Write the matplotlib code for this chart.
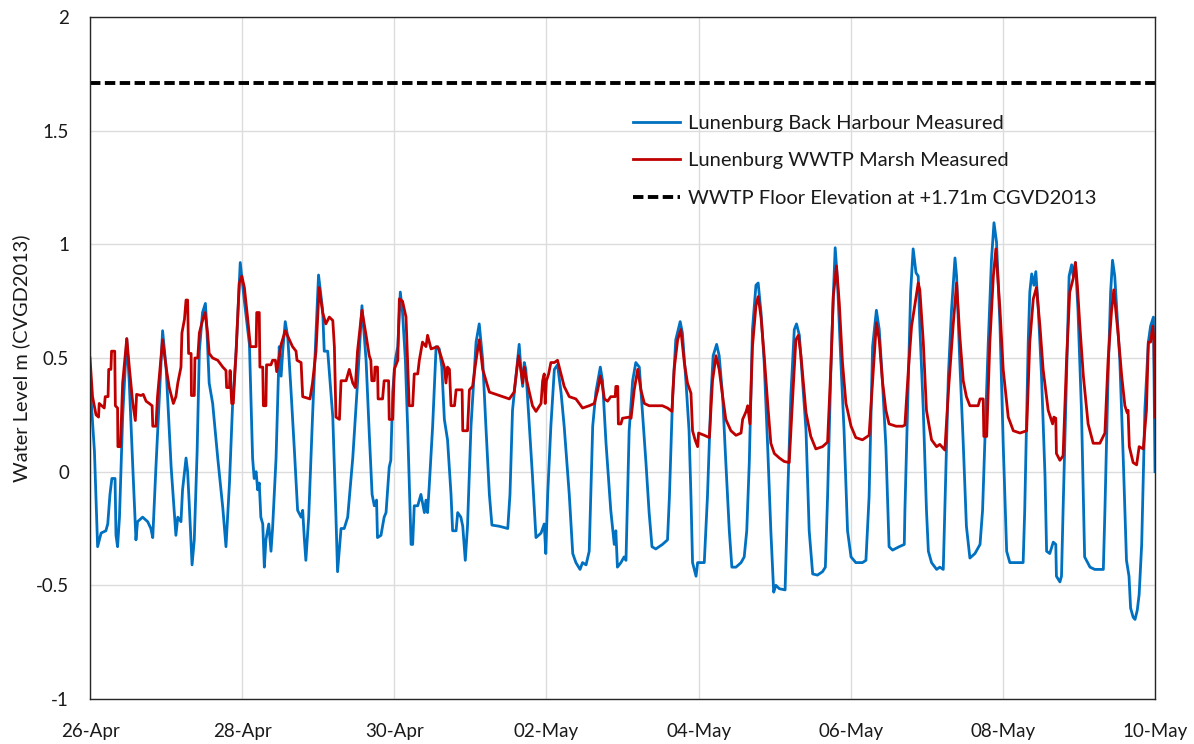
import matplotlib
matplotlib.use("Agg")
import matplotlib.pyplot as plt

plt.rcParams['font.family'] = ['Lato', 'DejaVu Sans']
plt.rcParams['axes.unicode_minus'] = False
plt.rcParams['lines.scale_dashes'] = False

# ---- data (hours since 26-Apr 00:00, water level in m) ----
blue_h = [0.0, 1.4, 2.4, 3.5, 5.0, 5.6, 6.3, 6.9, 7.9, 8.2, 8.7, 9.3, 10.3, 11.6, 12.4, 13.5, 14.5, 15.0,
          16.6, 18.2, 19.2, 19.8, 20.8, 22.1, 22.9, 24.0, 25.6, 27.1, 27.7, 28.7, 29.2, 30.3, 30.8, 31.3,
          32.2, 32.9, 33.8, 34.5, 35.5, 36.4, 36.8, 37.6, 38.7, 40.3, 41.3, 41.9, 42.9, 44.0, 45.0, 46.1,
          47.4, 48.7, 50.3, 51.3, 51.8, 52.4, 52.9, 53.4, 53.9, 54.5, 55.0, 55.5, 56.4, 57.1, 57.6, 58.7,
          59.7, 60.3, 60.8, 61.6, 62.4, 63.4, 64.5, 65.5, 66.6, 67.1, 67.6, 68.1, 69.0, 70.2, 71.3, 72.1,
          73.4, 73.9, 75.0, 76.6, 77.6, 78.1, 79.2, 80.2, 81.3, 82.9, 84.4, 85.8,
          87.1, 88.1, 89.0, 89.7, 90.4, 90.7, 91.8, 92.8, 93.4, 94.4, 94.9, 95.5, 96.3, 97.1, 97.9, 98.6,
          99.5, 100.2, 101.3, 101.8, 102.3, 103.4, 104.4, 105.5, 106.0, 106.5, 107.0, 108.1, 109.2, 110.2,
          111.0, 111.8, 112.8, 113.9, 114.4, 115.5, 116.0, 117.0, 117.6, 118.4, 119.1, 120.2, 121.8, 122.8,
          123.9, 124.9, 126.0, 126.8, 129.1, 131.8, 132.5, 133.3, 134.4, 135.4, 135.9, 136.5, 137.0, 137.5,
          138.6, 139.6, 140.7, 142.3, 143.3, 143.8, 144.4, 145.4, 146.5, 147.5, 148.6, 149.6, 151.2, 152.3,
          153.3, 154.6, 155.4, 156.5, 157.5, 158.6, 159.6, 161.0, 161.7, 162.8, 164.3, 165.4, 165.9, 166.4,
          167.5, 168.5,
          169.1, 170.1, 171.2, 172.2, 173.3, 174.3, 175.4, 176.4, 177.3, 178.5, 180.6, 182.2, 182.8, 183.8,
          184.8, 186.2, 186.9, 188.0, 189.0, 189.6, 190.1, 191.2, 191.7, 193.8, 194.8, 195.9, 196.6, 197.7,
          198.5, 199.6, 200.6, 201.7, 202.5, 203.8, 205.4, 206.4, 207.2, 208.0, 209.0, 210.1, 210.8, 211.7,
          212.7, 213.8, 214.8, 215.7, 216.4, 217.5, 219.3, 220.1, 221.1, 222.2, 222.9, 223.8, 224.8, 225.9,
          226.9, 228.0, 229.5, 231.1, 232.0, 232.7, 233.8, 234.5, 235.1, 235.8, 236.9, 237.9, 239.0, 240.1,
          241.6, 243.7, 244.8, 245.8, 246.9, 248.1, 249.0, 250.0, 251.1, 252.1, 253.2, 255.3, 256.9,
          257.1, 258.2, 258.9, 259.7, 260.6, 261.3, 261.8, 262.9, 263.9, 264.5, 265.5, 267.1, 268.1, 269.2,
          269.7, 270.8, 271.8, 272.9, 273.4, 274.4, 275.5, 276.5, 277.6, 279.2, 280.8, 281.6, 282.3, 283.4,
          284.4, 285.2, 286.0, 287.1, 288.1, 289.2, 290.2, 292.3, 294.4, 294.9, 296.0, 296.5, 297.1, 297.8,
          298.4, 299.2, 300.2, 301.3, 301.8, 302.8, 303.9, 304.7, 304.9, 306.0, 306.5, 307.0, 308.1, 308.9,
          309.7, 310.2, 310.9, 311.7, 312.8, 313.8, 315.5, 317.0, 319.7, 320.2, 321.2, 322.0, 322.6, 323.3,
          324.9, 326.0, 327.0, 327.8, 328.3, 329.1, 329.7, 330.4, 331.0, 331.8, 332.8, 333.9, 334.6, 335.5,
          336.0]
blue_v = [0.39, 0.09, -0.33, -0.27, -0.26, -0.23, -0.10, -0.03, -0.03, -0.28, -0.33, -0.20, 0.24, 0.585, 0.39,
          0.02, -0.30, -0.22, -0.20, -0.22, -0.25, -0.29, 0.02, 0.39, 0.62, 0.46, 0.02, -0.28, -0.20, -0.22,
          -0.08, 0.06, 0.00, -0.14, -0.41, -0.30, 0.09, 0.53, 0.70, 0.74, 0.65, 0.39, 0.30, 0.06, -0.08,
          -0.16, -0.33, -0.05, 0.30, 0.53, 0.92, 0.75, 0.56, 0.06, -0.03, 0.00, -0.08, -0.05, -0.20, -0.23,
          -0.42, -0.30, -0.23, -0.35, -0.25, 0.06, 0.55, 0.42, 0.53, 0.66, 0.59, 0.36, 0.09, -0.17, -0.20,
          -0.17, -0.29, -0.39, -0.20, 0.24, 0.61, 0.865, 0.71, 0.53, 0.53, 0.24, -0.20, -0.44, -0.25, -0.25,
          -0.20, 0.06, 0.39, 0.73,
          0.49, 0.17, -0.10, -0.15, -0.125, -0.29, -0.28, -0.20, -0.18, 0.02, 0.05, 0.35, 0.49, 0.55, 0.79,
          0.70, 0.49, 0.20, -0.32, -0.32, -0.15, -0.15, -0.10, -0.18, -0.125, -0.18, -0.07, 0.20, 0.55, 0.54,
          0.46, 0.23, 0.14, -0.10, -0.26, -0.26, -0.18, -0.20, -0.24, -0.39, -0.24, 0.20, 0.57, 0.65, 0.49,
          0.20, -0.10, -0.235, -0.24, -0.25, -0.10, 0.27, 0.42, 0.56, 0.46, 0.375, 0.48, 0.45, 0.20, -0.02,
          -0.29, -0.27, -0.23, -0.36, -0.10, 0.20, 0.45, 0.47, 0.35, 0.20, -0.10, -0.36, -0.40, -0.43, -0.40,
          -0.41, -0.35, 0.20, 0.35, 0.46, 0.40, 0.125, -0.17, -0.32, -0.26, -0.42, -0.40, -0.375,
          -0.39, 0.18, 0.40, 0.48, 0.46, 0.26, 0.04, -0.18, -0.33, -0.34, -0.32, -0.30, -0.11, 0.33, 0.58,
          0.66, 0.61, 0.40, 0.18, -0.11, -0.40, -0.46, -0.40, -0.40, -0.11, 0.33, 0.51, 0.56, 0.51, 0.33,
          0.04, -0.26, -0.42, -0.42, -0.40, -0.375, -0.26, 0.04, 0.625, 0.82, 0.83, 0.70, 0.48, 0.11, -0.26,
          -0.53, -0.50, -0.515, -0.52, -0.11, 0.33, 0.625, 0.65, 0.60, 0.40, 0.18, -0.26, -0.45, -0.455,
          -0.44, -0.42, -0.11, 0.48, 0.77, 0.985, 0.845, 0.48, 0.18, -0.26, -0.375, -0.40, -0.40, -0.39,
          -0.11, 0.55, 0.71, 0.625, 0.40, 0.11, -0.33, -0.345, -0.33, -0.32,
          -0.17, 0.42, 0.79, 0.98, 0.875, 0.86, 0.64, 0.27, -0.17, -0.35, -0.40, -0.43, -0.42, -0.43, -0.17,
          0.42, 0.71, 0.94, 0.86, 0.49, 0.125, -0.24, -0.38, -0.36, -0.32, -0.17, 0.125, 0.57, 0.93, 1.095,
          1.01, 0.64, 0.125, -0.35, -0.40, -0.40, -0.40, -0.17, 0.57, 0.79, 0.87, 0.82, 0.88, 0.71, 0.42,
          -0.02, -0.35, -0.36, -0.31, -0.32, -0.46, -0.485, -0.46, -0.17, 0.42, 0.86, 0.91, 0.86, 0.92, 0.71,
          0.27, -0.375, -0.42, -0.43, -0.43, -0.17, 0.42, 0.79, 0.93, 0.86, 0.49, 0.05, -0.39, -0.46, -0.60,
          -0.64, -0.65, -0.61, -0.54, -0.32, 0.27, 0.57, 0.64, 0.68, 0.0]

red_h = [0.0, 0.8, 1.9, 2.7, 2.9, 4.5, 4.8, 5.7, 5.9, 6.6, 6.8, 7.8, 8.0, 8.7, 8.8, 9.6, 10.3, 11.6, 12.4,
         13.5, 14.3, 14.7, 16.1, 16.8, 17.7, 18.7, 19.6, 19.8, 20.8, 21.3, 22.9, 24.0, 25.0, 26.3, 27.1, 27.7,
         28.7, 29.0, 29.8, 30.3, 30.8, 31.1, 31.9, 32.0, 32.9, 33.1, 34.0, 34.5, 35.5, 36.3, 37.1, 37.6,
         38.7, 40.3, 41.9, 42.9, 43.1, 44.0, 44.2, 44.7, 45.2, 46.1, 47.1, 47.9, 48.7, 49.7, 50.6, 52.4,
         52.6, 53.4, 53.6, 54.5, 54.7, 55.5, 55.7, 57.1, 57.6, 58.5, 58.9, 59.5, 60.3, 61.6, 62.9, 63.9,
         65.0, 65.3, 66.6, 67.1, 69.4, 70.2, 71.3, 72.3, 73.4, 74.4, 75.5, 76.6, 77.1, 77.6, 78.7, 79.2,
         80.8, 81.8, 82.9, 83.7, 84.4, 85.8,
         87.1, 88.1, 88.6, 88.9, 89.7, 89.9, 90.7, 90.9, 92.3, 92.8, 94.2, 94.4, 95.5, 96.0, 97.1, 97.6,
         98.6, 99.7, 100.2, 100.7, 101.8, 102.3, 103.4, 103.9, 104.9, 106.0, 106.5, 107.6, 109.7, 110.7,
         111.8, 112.3, 112.8, 113.4, 113.9, 115.0, 115.5, 117.4, 117.6, 119.1, 119.7, 120.7, 121.8, 122.8,
         123.9, 126.0, 128.1, 130.2, 132.3, 133.8, 135.2, 135.9, 136.5, 137.0, 137.5, 138.6, 139.6, 140.7,
         142.3, 142.8, 143.3, 143.6, 144.0, 144.7, 145.4, 146.5, 147.5, 148.6, 149.6, 151.2, 153.3, 155.4,
         157.5, 159.1, 160.2, 161.0, 161.7, 162.3, 163.3, 164.3, 165.7, 165.9, 166.5, 166.7, 167.5, 168.0,
         170.1,
         170.7, 171.7, 172.8, 173.8, 174.9, 176.4, 178.5, 180.6, 182.2, 183.6, 184.3, 185.4, 186.4, 187.5,
         188.5, 189.6, 190.1, 190.9, 191.7, 192.0, 193.8, 195.4, 196.4, 197.5, 198.5, 199.6, 200.6, 202.2,
         203.8, 205.4, 205.9, 207.0, 207.5, 208.2, 209.0, 210.1, 210.8, 211.7, 212.7, 213.8, 214.8, 215.9,
         217.5, 219.0, 220.6, 221.7, 222.7, 223.5, 224.3, 225.9, 227.4, 229.0, 231.1, 232.7, 233.8, 234.5,
         235.5, 236.4, 237.4, 238.5, 239.0, 240.1, 241.6, 243.7, 245.8, 246.9, 248.1, 249.0, 250.0, 251.1,
         252.1, 254.3, 256.4,
         257.1, 258.2, 259.2, 261.3, 261.8, 262.9, 263.9, 265.5, 267.1, 268.1, 269.7, 270.8, 272.3, 273.4,
         274.4, 275.5, 276.5, 277.6, 280.2, 280.8, 281.8, 282.0, 282.9, 283.9, 285.0, 285.8, 287.1, 288.1,
         289.7, 291.3, 293.4, 295.5, 296.5, 297.6, 298.6, 299.7, 300.7, 302.3, 303.7, 304.1, 304.7, 304.9,
         306.0, 307.0, 308.1, 309.1, 310.2, 310.9, 311.5, 312.3, 313.4, 314.9, 316.5, 318.6, 320.2, 321.2,
         322.3, 323.0, 324.4, 325.5, 326.5, 327.2, 327.5, 327.9, 329.1, 330.2, 331.0, 332.3, 333.3, 333.9,
         334.6, 335.3, 335.7, 336.0]
red_v = [0.50, 0.33, 0.25, 0.24, 0.30, 0.28, 0.33, 0.33, 0.45, 0.45, 0.53, 0.53, 0.29, 0.28, 0.11, 0.11,
         0.39, 0.585, 0.46, 0.30, 0.225, 0.34, 0.335, 0.34, 0.31, 0.30, 0.29, 0.20, 0.20, 0.33, 0.58, 0.46,
         0.37, 0.30, 0.33, 0.39, 0.46, 0.61, 0.67, 0.755, 0.755, 0.52, 0.52, 0.335, 0.335, 0.50, 0.50, 0.61,
         0.665, 0.70, 0.61, 0.52, 0.50, 0.49, 0.46, 0.445, 0.37, 0.37, 0.445, 0.30, 0.30, 0.53, 0.83, 0.86,
         0.81, 0.68, 0.55, 0.55, 0.70, 0.70, 0.46, 0.46, 0.29, 0.29, 0.47, 0.47, 0.49, 0.49, 0.44, 0.49,
         0.56, 0.62, 0.58, 0.55, 0.53, 0.49, 0.48, 0.33, 0.32, 0.39, 0.53, 0.81, 0.70, 0.65, 0.68, 0.665,
         0.55, 0.24, 0.23, 0.40, 0.40, 0.45, 0.39, 0.37, 0.53, 0.71,
         0.60, 0.51, 0.49, 0.40, 0.40, 0.46, 0.46, 0.32, 0.32, 0.40, 0.40, 0.23, 0.23, 0.45, 0.49, 0.76,
         0.75, 0.68, 0.48, 0.29, 0.29, 0.43, 0.43, 0.49, 0.57, 0.55, 0.60, 0.54, 0.55, 0.51, 0.46, 0.39,
         0.46, 0.45, 0.29, 0.29, 0.36, 0.36, 0.18, 0.18, 0.36, 0.375, 0.49, 0.58, 0.45, 0.35, 0.34, 0.33,
         0.32, 0.35, 0.51, 0.45, 0.39, 0.46, 0.42, 0.35, 0.29, 0.265, 0.30, 0.40, 0.43, 0.30, 0.40, 0.43,
         0.48, 0.48, 0.49, 0.43, 0.375, 0.33, 0.32, 0.28, 0.29, 0.30, 0.36, 0.42, 0.375, 0.32, 0.31, 0.33,
         0.33, 0.375, 0.375, 0.21, 0.21, 0.235, 0.24,
         0.235, 0.36, 0.45, 0.36, 0.30, 0.29, 0.29, 0.29, 0.28, 0.265, 0.45, 0.58, 0.625, 0.48, 0.39, 0.345,
         0.18, 0.14, 0.11, 0.17, 0.16, 0.15, 0.40, 0.51, 0.45, 0.33, 0.23, 0.18, 0.16, 0.17, 0.23, 0.265,
         0.29, 0.21, 0.55, 0.73, 0.77, 0.68, 0.51, 0.30, 0.125, 0.08, 0.06, 0.045, 0.04, 0.33, 0.58, 0.60,
         0.51, 0.26, 0.155, 0.10, 0.11, 0.13, 0.48, 0.77, 0.905, 0.74, 0.48, 0.30, 0.27, 0.20, 0.15, 0.14,
         0.16, 0.40, 0.655, 0.58, 0.40, 0.27, 0.21, 0.20, 0.20,
         0.205, 0.45, 0.64, 0.83, 0.80, 0.57, 0.27, 0.14, 0.11, 0.12, 0.095, 0.35, 0.64, 0.83, 0.60, 0.40,
         0.33, 0.29, 0.29, 0.32, 0.32, 0.155, 0.155, 0.57, 0.86, 0.98, 0.71, 0.45, 0.24, 0.18, 0.17, 0.18,
         0.57, 0.76, 0.81, 0.64, 0.45, 0.27, 0.21, 0.24, 0.235, 0.08, 0.05, 0.07, 0.49, 0.79, 0.85, 0.92,
         0.82, 0.64, 0.42, 0.21, 0.125, 0.125, 0.17, 0.49, 0.71, 0.80, 0.60, 0.42, 0.29, 0.26, 0.27, 0.11,
         0.04, 0.03, 0.11, 0.10, 0.27, 0.57, 0.57, 0.64, 0.57, 0.24]

floor_level = 1.71
x_tick_hours = [0, 48, 96, 144, 192, 240, 288, 336]
x_tick_labels = ['26-Apr', '28-Apr', '30-Apr', '02-May', '04-May', '06-May', '08-May', '10-May']
y_ticks = [-1, -0.5, 0, 0.5, 1, 1.5, 2]
y_tick_labels = ['-1', '-0.5', '0', '0.5', '1', '1.5', '2']
series_labels = ['Lunenburg Back Harbour Measured', 'Lunenburg WWTP Marsh Measured',
                 'WWTP Floor Elevation at +1.71m CGVD2013']

fig = plt.figure(figsize=(11.94, 7.44), dpi=100)
ax = fig.add_axes([90/1194, 1-699/744, (1155-90)/1194, (699-17)/744])

ax.plot(blue_h, blue_v, color='#0070C0', lw=2.0, label=series_labels[0], solid_joinstyle='round')
ax.plot(red_h, red_v, color='#C00000', lw=2.0, label=series_labels[1], solid_joinstyle='round')
ax.plot([x_tick_hours[0], x_tick_hours[-1]], [floor_level, floor_level], color='black', lw=2.8,
        dashes=(7.5, 3.2), label=series_labels[2])

ax.set_xlim(x_tick_hours[0], x_tick_hours[-1])
ax.set_ylim(-1, 2)
ax.set_xticks(x_tick_hours)
ax.set_xticklabels(x_tick_labels)
ax.set_yticks(y_ticks)
ax.set_yticklabels(y_tick_labels)
ax.tick_params(axis='both', length=0, labelsize=13.5, colors='#1a1a1a')
ax.tick_params(axis='x', pad=17)
ax.tick_params(axis='y', pad=15)
ax.grid(True, color='#dcdcdc', lw=1.0)
ax.set_axisbelow(True)
for s in ax.spines.values():
    s.set_color('#262626')
    s.set_linewidth(1.0)

ax.set_ylabel('Water Level m (CVGD2013)', fontsize=14.4, color='#1a1a1a', labelpad=4)

leg = ax.legend(loc='upper left', bbox_to_anchor=(615/1194, 1-97/744), bbox_transform=fig.transFigure,
                frameon=False, fontsize=14.5, handlelength=2.35, handletextpad=0.35, labelspacing=1.0)
for t in leg.get_texts():
    t.set_color('#1a1a1a')

fig.savefig('out.png', dpi=100, facecolor='white')
